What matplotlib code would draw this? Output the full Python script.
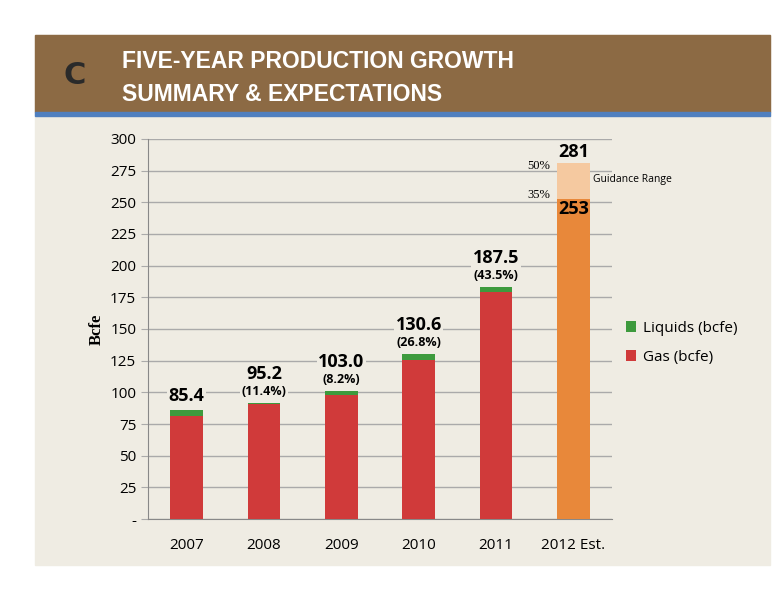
import matplotlib
matplotlib.use("Agg")
import matplotlib.pyplot as plt
import numpy as np

years = ["2007", "2008", "2009", "2010", "2011", "2012 Est."]
gas = [81, 90.5, 98, 125.5, 179, 253]
liquids = [5, 1, 3, 4.5, 4, 0]
guidance_top = 281
totals = ["85.4", "95.2", "103.0", "130.6", "187.5", ""]
growth = ["", "(11.4%)", "(8.2%)", "(26.8%)", "(43.5%)", ""]
yticks = [0, 25, 50, 75, 100, 125, 150, 175, 200, 225, 250, 275, 300]
ytlabels = ["-"] + [str(v) for v in yticks[1:]]

W, H = 776, 600
fig = plt.figure(figsize=(W/100, H/100), dpi=100)
fig.patch.set_facecolor("white")
fig.add_artist(plt.Rectangle((35/W, 1-565/H), 735/W, (565-35)/H, transform=fig.transFigure, color="#efece3", zorder=0))
fig.add_artist(plt.Rectangle((35/W, 1-112/H), 735/W, 77/H, transform=fig.transFigure, color="#8c6a44", zorder=1))
fig.add_artist(plt.Rectangle((35/W, 1-116/H), 735/W, 4/H, transform=fig.transFigure, color="#4f7fbf", zorder=1))
fig.text(122/W, 1-62/H, "FIVE-YEAR PRODUCTION GROWTH", color="white", fontsize=16.5, fontweight="bold", va="center", family="Liberation Sans")
fig.text(122/W, 1-94/H, "SUMMARY & EXPECTATIONS", color="white", fontsize=16.5, fontweight="bold", va="center", family="Liberation Sans")
fig.text(75/W, 1-76/H, "C", color="#2a2a2a", fontsize=22, fontweight="bold", va="center", ha="center")

ax = fig.add_axes([148/W, 1-519/H, (612-148)/W, (519-139)/H])
ax.set_facecolor("none")
x = np.arange(len(years))
bw = 0.42
gas_colors = ["#d03a3a"]*5 + ["#e8883a"]
ax.bar(x, gas, bw, color=gas_colors, label="Gas (bcfe)", zorder=3)
ax.bar(x, liquids, bw, bottom=gas, color="#3d9a3d", label="Liquids (bcfe)", zorder=3)
ax.bar(x[-1], guidance_top-gas[-1], bw, bottom=gas[-1], color="#f5c9a0", zorder=3)
ax.set_ylim(0, 300)
ax.set_xlim(-0.5, len(years)-0.5)
ax.set_yticks(yticks)
ax.set_yticklabels(ytlabels, fontsize=11, family="Open Sans")
ax.set_xticks(x)
ax.set_xticklabels(years, fontsize=11, family="Open Sans")
ax.tick_params(axis="x", length=0, pad=14)
ax.tick_params(axis="y", length=5, color="#aaaaaa")
ax.grid(axis="y", color="#aaaaaa", lw=1, zorder=1)
for s in ["top", "right"]:
    ax.spines[s].set_visible(False)
ax.spines["left"].set_color("#888888")
ax.spines["bottom"].set_color("#888888")
ax.set_ylabel("Bcfe", fontsize=12, fontweight="bold", family="Liberation Serif")

bb = dict(facecolor="#efece3", edgecolor="none", pad=1)
for i in range(5):
    top = gas[i] + liquids[i]
    if growth[i]:
        ax.text(i, top+4, growth[i], ha="center", va="bottom", fontsize=9, fontweight="bold", family="Open Sans", zorder=4, bbox=bb)
        ax.text(i, top+16, totals[i], ha="center", va="bottom", fontsize=13, fontweight="bold", family="Open Sans", zorder=4, bbox=bb)
    else:
        ax.text(i, top+4, totals[i], ha="center", va="bottom", fontsize=13, fontweight="bold", family="Open Sans", zorder=4, bbox=bb)
ax.text(5, guidance_top+2, str(guidance_top), ha="center", va="bottom", fontsize=13, fontweight="bold", family="Open Sans", zorder=4)
ax.text(5, gas[-1]-1, str(gas[-1]), ha="center", va="top", fontsize=13, fontweight="bold", family="Open Sans", zorder=4)
ax.text(4.7, 279, "50%", ha="right", va="center", fontsize=9, family="Liberation Serif", zorder=4)
ax.text(4.7, 256, "35%", ha="right", va="center", fontsize=9, family="Liberation Serif", zorder=4)
ax.text(5.25, 268, "Guidance Range", ha="left", va="center", fontsize=7.5, family="Open Sans", zorder=4)

h, l = ax.get_legend_handles_labels()
fig.legend(h[::-1], l[::-1], loc="center left", bbox_to_anchor=(612/W, 1-343/H), frameon=False,
           prop={"family": "Open Sans", "size": 11}, handlelength=0.7, handleheight=0.7, handletextpad=0.4, labelspacing=0.9)
fig.savefig("out.png", dpi=100)
